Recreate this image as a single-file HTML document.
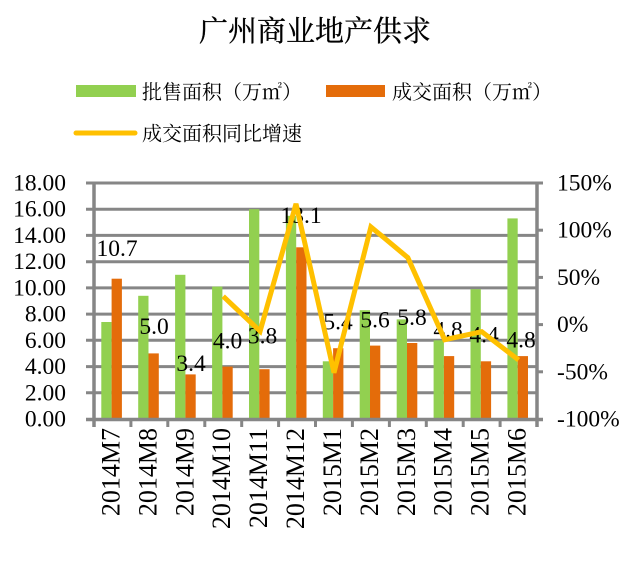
<!DOCTYPE html>
<html><head><meta charset="utf-8"><style>
html,body{margin:0;padding:0;background:#fff;}
svg{display:block;}
.n{font-family:"Liberation Serif","DejaVu Serif",serif;fill:#000;}
.c{font-family:"Liberation Serif","Noto Serif CJK SC","Noto Sans CJK SC",serif;fill:#000;}
</style></head><body>
<svg width="640" height="561" viewBox="0 0 640 561" xmlns="http://www.w3.org/2000/svg">
<rect width="640" height="561" fill="#fff"/>
<!-- title -->
<text class="c" x="315" y="41" font-size="29" text-anchor="middle" stroke="#000" stroke-width="0.3">广州商业地产供求</text>
<!-- legend -->
<rect x="76" y="85" width="60" height="12" fill="#92D050"/>
<text class="c" x="142" y="99" font-size="20">批售面积（万㎡）</text>
<rect x="326" y="85" width="59" height="12" fill="#E46C0A"/>
<text class="c" x="392" y="99" font-size="20">成交面积（万㎡）</text>
<line x1="76" y1="133" x2="135" y2="133" stroke="#FFC000" stroke-width="5" stroke-linecap="round"/>
<text class="c" x="142" y="140.5" font-size="20">成交面积同比增速</text>

<!-- gridlines -->
<g stroke="#868686" stroke-width="3">
<line x1="86" y1="183" x2="537" y2="183"/>
<line x1="86" y1="209.2" x2="537" y2="209.2"/>
<line x1="86" y1="235.4" x2="537" y2="235.4"/>
<line x1="86" y1="261.7" x2="537" y2="261.7"/>
<line x1="86" y1="287.9" x2="537" y2="287.9"/>
<line x1="86" y1="314.1" x2="537" y2="314.1"/>
<line x1="86" y1="340.3" x2="537" y2="340.3"/>
<line x1="86" y1="366.6" x2="537" y2="366.6"/>
<line x1="86" y1="392.8" x2="537" y2="392.8"/>
</g>

<!-- bars green -->
<g fill="#92D050">
<rect x="101.3" y="322.0" width="10.3" height="97"/>
<rect x="138.2" y="295.8" width="10.3" height="123.2"/>
<rect x="175.1" y="274.8" width="10.3" height="144.2"/>
<rect x="212.1" y="286.6" width="10.3" height="132.4"/>
<rect x="249.0" y="209.2" width="10.3" height="209.8"/>
<rect x="285.9" y="215.8" width="10.3" height="203.2"/>
<rect x="322.8" y="361.3" width="10.3" height="57.7"/>
<rect x="359.7" y="310.2" width="10.3" height="108.8"/>
<rect x="396.7" y="319.4" width="10.3" height="99.6"/>
<rect x="433.6" y="340.3" width="10.3" height="78.7"/>
<rect x="470.5" y="289.2" width="10.3" height="129.8"/>
<rect x="507.4" y="218.4" width="10.3" height="200.6"/>
</g>
<!-- bars orange -->
<g fill="#E46C0A">
<rect x="111.6" y="278.7" width="10.3" height="140.3"/>
<rect x="148.5" y="353.4" width="10.3" height="65.6"/>
<rect x="185.4" y="374.4" width="10.3" height="44.6"/>
<rect x="222.4" y="366.6" width="10.3" height="52.4"/>
<rect x="259.3" y="369.2" width="10.3" height="49.8"/>
<rect x="296.2" y="247.3" width="10.3" height="171.7"/>
<rect x="333.1" y="348.2" width="10.3" height="70.8"/>
<rect x="370.0" y="345.6" width="10.3" height="73.4"/>
<rect x="407.0" y="343.0" width="10.3" height="76.0"/>
<rect x="443.9" y="356.1" width="10.3" height="62.9"/>
<rect x="480.8" y="361.3" width="10.3" height="57.7"/>
<rect x="517.7" y="356.1" width="10.3" height="62.9"/>
</g>

<!-- axes -->
<g stroke="#868686" stroke-width="3.5">
<line x1="94" y1="181.5" x2="94" y2="427"/>
<line x1="537" y1="181.5" x2="537" y2="427"/>
<line x1="86" y1="419.5" x2="543" y2="419.5"/>
</g>
<g stroke="#868686" stroke-width="3">
<line x1="86" y1="183" x2="94" y2="183"/>
<line x1="537" y1="183" x2="543" y2="183"/>
<line x1="537" y1="230.2" x2="543" y2="230.2"/>
<line x1="537" y1="277.4" x2="543" y2="277.4"/>
<line x1="537" y1="324.6" x2="543" y2="324.6"/>
<line x1="537" y1="371.8" x2="543" y2="371.8"/>
<line x1="130.9" y1="419" x2="130.9" y2="427"/>
<line x1="167.8" y1="419" x2="167.8" y2="427"/>
<line x1="204.8" y1="419" x2="204.8" y2="427"/>
<line x1="241.7" y1="419" x2="241.7" y2="427"/>
<line x1="278.6" y1="419" x2="278.6" y2="427"/>
<line x1="315.5" y1="419" x2="315.5" y2="427"/>
<line x1="352.4" y1="419" x2="352.4" y2="427"/>
<line x1="389.4" y1="419" x2="389.4" y2="427"/>
<line x1="426.3" y1="419" x2="426.3" y2="427"/>
<line x1="463.2" y1="419" x2="463.2" y2="427"/>
<line x1="500.1" y1="419" x2="500.1" y2="427"/>
</g>

<!-- left axis labels -->
<g class="n" font-size="23.5" text-anchor="end">
<text x="66" y="190.5">18.00</text>
<text x="66" y="216.7">16.00</text>
<text x="66" y="242.9">14.00</text>
<text x="66" y="269.2">12.00</text>
<text x="66" y="295.4">10.00</text>
<text x="66" y="321.6">8.00</text>
<text x="66" y="347.8">6.00</text>
<text x="66" y="374.1">4.00</text>
<text x="66" y="400.3">2.00</text>
<text x="66" y="426.5">0.00</text>
</g>
<!-- right axis labels -->
<g class="n" font-size="23.5">
<text x="557" y="190.5">150%</text>
<text x="557" y="237.7">100%</text>
<text x="557" y="284.9">50%</text>
<text x="557" y="332.1">0%</text>
<text x="557" y="379.3">-50%</text>
<text x="557" y="426.5">-100%</text>
</g>

<!-- x labels -->
<g class="n" font-size="26" text-anchor="end">
<text transform="translate(119.5,428) rotate(-90)">2014M7</text>
<text transform="translate(156.4,428) rotate(-90)">2014M8</text>
<text transform="translate(193.3,428) rotate(-90)">2014M9</text>
<text transform="translate(230.2,428) rotate(-90)">2014M10</text>
<text transform="translate(267.1,428) rotate(-90)">2014M11</text>
<text transform="translate(304.1,428) rotate(-90)">2014M12</text>
<text transform="translate(341.0,428) rotate(-90)">2015M1</text>
<text transform="translate(377.9,428) rotate(-90)">2015M2</text>
<text transform="translate(414.8,428) rotate(-90)">2015M3</text>
<text transform="translate(451.7,428) rotate(-90)">2015M4</text>
<text transform="translate(488.7,428) rotate(-90)">2015M5</text>
<text transform="translate(525.6,428) rotate(-90)">2015M6</text>
</g>

<!-- data labels -->
<g class="n" font-size="23.5" text-anchor="middle">
<text x="117" y="256">10.7</text>
<text x="154" y="334">5.0</text>
<text x="191" y="371">3.4</text>
<text x="227.5" y="348.5">4.0</text>
<text x="262.5" y="343.5">3.8</text>
<text x="301" y="223">13.1</text>
<text x="338" y="329.5">5.4</text>
<text x="375" y="327.5">5.6</text>
<text x="412" y="325">5.8</text>
<text x="448" y="337.7">4.8</text>
<text x="484" y="342.7">4.4</text>
<text x="521" y="347.7">4.8</text>
</g>

<!-- line -->
<polyline fill="none" stroke="#FFC000" stroke-width="5" stroke-linejoin="miter" stroke-linecap="butt"
 points="223.2,296.3 260.1,331.2 296.0,203.8 334.0,372.7 370.9,226.9 407.8,257.6 444.7,339.7 481.7,331.7 518.6,360"/>
</svg>
</body></html>
